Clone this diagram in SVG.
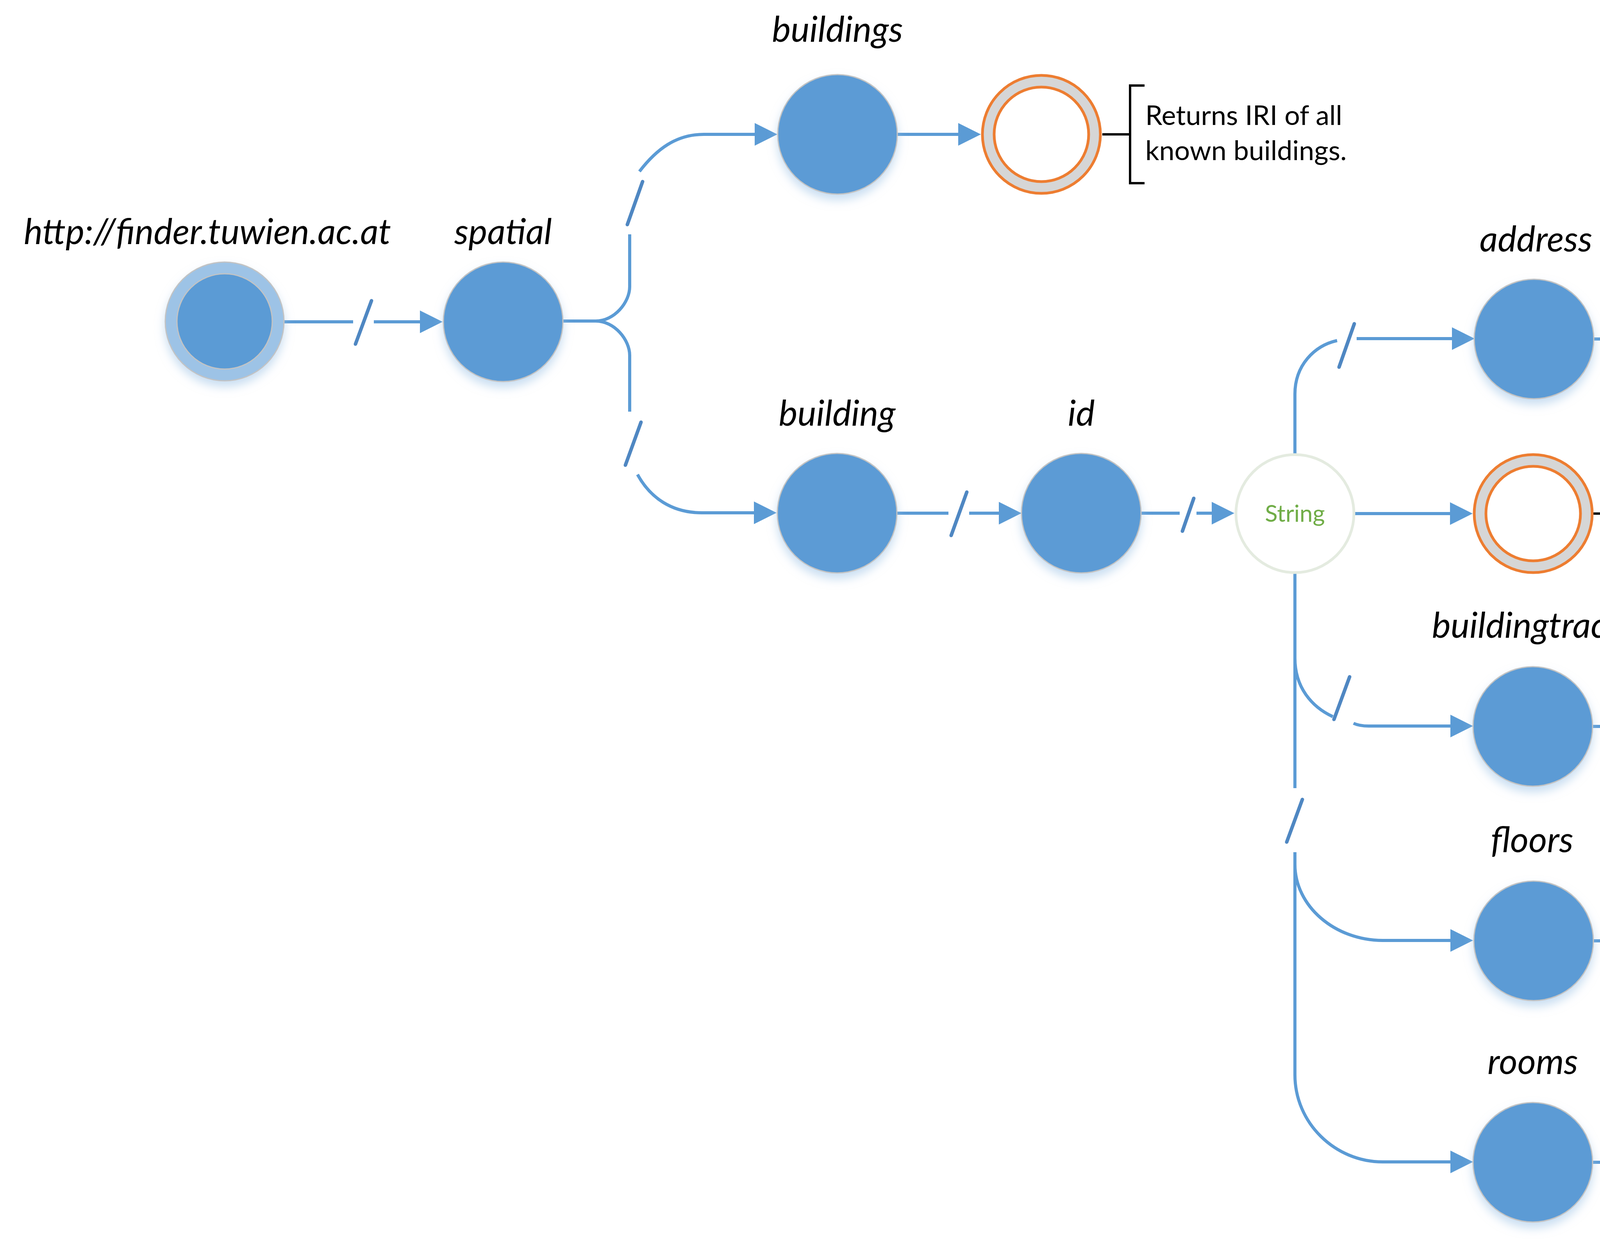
<svg xmlns="http://www.w3.org/2000/svg" width="5325" height="3175" viewBox="0 0 5325 3175">
<defs>
<filter id="sh" x="-30%" y="-30%" width="160%" height="170%">
<feDropShadow dx="0" dy="14" stdDeviation="12" flood-color="#9dc3e6" flood-opacity="0.55"/>
</filter>
<marker id="ah" markerUnits="userSpaceOnUse" markerWidth="58" markerHeight="60" refX="0" refY="29" orient="auto" overflow="visible">
<path d="M0,0 L58,29 L0,58 Z" fill="#5b9bd5"/>
</marker>
</defs>
<style>
.bg{fill:#ffffff}
.node{fill:#5b9bd5;stroke:#c3c3c3;stroke-width:3;filter:url(#sh)}
.rootout{fill:#9dc3e6;stroke:#c3c3c3;stroke-width:3;filter:url(#sh)}
.rootin{fill:#5b9bd5;stroke:#c3c3c3;stroke-width:3}
.str{fill:#ffffff;stroke:#e4ebe0;stroke-width:7}
.rout{fill:#d6d6d6;stroke:#ed7d31;stroke-width:7}
.rin{fill:#ffffff;stroke:#ed7d31;stroke-width:7}
.e{fill:none;stroke:#5b9bd5;stroke-width:8}
.sl{fill:none;stroke:#4f87c2;stroke-width:9;stroke-linecap:round}
.br{fill:none;stroke:#000000;stroke-width:6}
.lbl{font-family:Lato,"Open Sans","DejaVu Sans",sans-serif;font-style:italic;font-size:91px;fill:#000000;text-anchor:middle}
.note{font-family:Lato,"Open Sans","DejaVu Sans",sans-serif;font-size:62px;fill:#000000}
.note1{font-family:Lato,"Open Sans","DejaVu Sans",sans-serif;font-size:70px;fill:#000000}
.strt{font-family:Lato,"Open Sans","DejaVu Sans",sans-serif;font-size:60px;fill:#70ad47;text-anchor:middle}
</style>
<rect class="bg" x="0" y="0" width="5325" height="3175"/>

<g id="connectors">
<!-- root -> spatial -->
<path class="e" d="M728,824 L904,824"/>
<path class="e" d="M957,824 L1075,824" marker-end="url(#ah)"/>
<line class="sl" x1="951" y1="770" x2="910" y2="881"/>
<!-- spatial -> buildings -->
<path class="e" d="M1433,822 L1525,822 C1573,822 1612,774 1612,734 L1612,600"/>
<path class="e" d="M1637,439 C1680,383 1730,344 1802,344 L1932,344" marker-end="url(#ah)"/>
<line class="sl" x1="1645" y1="465" x2="1606" y2="575"/>
<!-- spatial -> building -->
<path class="e" d="M1525,822 C1573,822 1612,870 1612,910 L1612,1054"/>
<path class="e" d="M1632,1215 C1665,1275 1720,1313 1797,1313 L1930,1313" marker-end="url(#ah)"/>
<line class="sl" x1="1641" y1="1081" x2="1601" y2="1191"/>
<!-- buildings -> result -->
<path class="e" d="M2297,344 L2453,344" marker-end="url(#ah)"/>
<!-- building -> id -->
<path class="e" d="M2297,1314 L2428,1314"/>
<path class="e" d="M2481,1314 L2557,1314" marker-end="url(#ah)"/>
<line class="sl" x1="2475" y1="1260" x2="2435" y2="1371"/>
<!-- id -> String -->
<path class="e" d="M2922,1314 L3020,1314"/>
<path class="e" d="M3063,1314 L3102,1314" marker-end="url(#ah)"/>
<line class="sl" x1="3056" y1="1276" x2="3027" y2="1360"/>
<!-- String -> address -->
<path class="e" d="M3315,1161 L3315,1009 C3315,935 3365,885 3423,872"/>
<path class="e" d="M3473,867 L3717,867" marker-end="url(#ah)"/>
<line class="sl" x1="3467" y1="829" x2="3428" y2="940"/>
<!-- String -> points to -->
<path class="e" d="M3468,1315 L3712,1315" marker-end="url(#ah)"/>
<!-- trunk -->
<path class="e" d="M3315,1469 L3315,2018"/>
<line class="sl" x1="3334" y1="2047" x2="3294" y2="2156"/>
<!-- buildingtracts -->
<path class="e" d="M3315,1685 C3315,1760 3358,1810 3412,1835"/>
<path class="e" d="M3465,1852 Q3480,1859 3504,1859 L3713,1859" marker-end="url(#ah)"/>
<line class="sl" x1="3455" y1="1733" x2="3415" y2="1842"/>
<!-- floors -->
<path class="e" d="M3315,2182 L3315,2752"/>
<path class="e" d="M3315,2213 C3315,2320 3417,2408 3540,2408 L3713,2408" marker-end="url(#ah)"/>
<!-- rooms -->
<path class="e" d="M3315,2752 C3315,2875 3417,2975 3540,2975 L3713,2975" marker-end="url(#ah)"/>
<!-- node -> result -->
<path class="e" d="M4079,868 L4241,868" marker-end="url(#ah)"/>
<path class="e" d="M4076,1860 L4232,1860" marker-end="url(#ah)"/>
<path class="e" d="M4079,2409 L4238,2409" marker-end="url(#ah)"/>
<path class="e" d="M4076,2976 L4237,2976" marker-end="url(#ah)"/>
<!-- result -> bracket -->
<path class="br" d="M2822,344 L2893,344"/>
<path class="br" d="M4607,868 L4691,868"/>
<path class="br" d="M4079,1315 L4178,1315"/>
<path class="br" d="M4598,1861 L4689,1861"/>
<path class="br" d="M4604,2410 L4708,2410"/>
<path class="br" d="M4604,2980 L4708,2985"/>
</g>

<g id="root">
<circle class="rootout" cx="575" cy="823" r="152"/>
<circle class="rootin" cx="575" cy="823" r="122"/>
<text class="lbl" x="531" y="625">http://finder.tuwien.ac.at</text>
</g>
<g id="spatial">
<circle class="node" cx="1288" cy="824" r="153"/>
<text class="lbl" x="1288" y="625">spatial</text>
</g>
<g id="buildings">
<circle class="node" cx="2144" cy="344" r="153"/>
<text class="lbl" x="2144" y="107">buildings</text>
</g>
<g id="buildings-result">
<circle class="rout" cx="2666" cy="344" r="151"/>
<circle class="rin" cx="2666" cy="344" r="121"/>
<path class="br" d="M2930,219 L2893,219 L2893,469 L2930,469"/>
<text class="note1" x="2932" y="320">Returns IRI of all</text>
<text class="note1" x="2932" y="410">known buildings.</text>
</g>
<g id="building">
<circle class="node" cx="2143" cy="1314" r="153"/>
<text class="lbl" x="2143" y="1090">building</text>
</g>
<g id="id">
<circle class="node" cx="2768" cy="1314" r="153"/>
<text class="lbl" x="2768" y="1090">id</text>
</g>
<g id="string">
<circle class="str" cx="3315" cy="1315" r="151"/>
<text class="strt" x="3315" y="1336">String</text>
</g>
<g id="address">
<circle class="node" cx="3927" cy="868" r="153"/>
<text class="lbl" x="3932" y="644">address</text>
</g>
<g id="address-result">
<circle class="rout" cx="4453" cy="868" r="151"/>
<circle class="rin" cx="4453" cy="868" r="121"/>
<path class="br" d="M4729,708 L4691,708 L4691,1028 L4729,1028"/>
<text class="note" x="4728" y="808">Returns the</text>
<text class="note" x="4728" y="888">address of the ref.</text>
<text class="note" x="4728" y="968">building.</text>
</g>
<g id="pointsto-result">
<circle class="rout" cx="3925" cy="1315" r="151"/>
<circle class="rin" cx="3925" cy="1315" r="121"/>
<path class="br" d="M4215,1192 L4178,1192 L4178,1441 L4215,1441"/>
<text class="note" x="4215" y="1296">Points to</text>
<text class="note" x="4215" y="1376">a building.</text>
</g>
<g id="buildingtracts">
<circle class="node" cx="3924" cy="1860" r="153"/>
<text class="lbl" x="3924" y="1633">buildingtracts</text>
</g>
<g id="buildingtracts-result">
<circle class="rout" cx="4444" cy="1861" r="151"/>
<circle class="rin" cx="4444" cy="1861" r="121"/>
<path class="br" d="M4729,1702 L4689,1702 L4689,2021 L4729,2021"/>
<text class="note" x="4726" y="1802">Returns IRI of all</text>
<text class="note" x="4726" y="1882">known tracts of</text>
<text class="note" x="4726" y="1962">ref. building.</text>
</g>
<g id="floors">
<circle class="node" cx="3926" cy="2409" r="153"/>
<text class="lbl" x="3922" y="2182">floors</text>
</g>
<g id="floors-result">
<circle class="rout" cx="4450" cy="2410" r="151"/>
<circle class="rin" cx="4450" cy="2410" r="121"/>
<path class="br" d="M4746,2252 L4708,2252 L4708,2571 L4746,2571"/>
<text class="note" x="4743" y="2351">Returns IRI of all</text>
<text class="note" x="4743" y="2431">known floors of ref.</text>
<text class="note" x="4743" y="2512">building.</text>
</g>
<g id="rooms">
<circle class="node" cx="3924" cy="2976" r="153"/>
<text class="lbl" x="3924" y="2750">rooms</text>
</g>
<g id="rooms-result">
<circle class="rout" cx="4449" cy="2977" r="151"/>
<circle class="rin" cx="4449" cy="2977" r="121"/>
<path class="br" d="M4746,2835 L4708,2835 L4708,3156 L4746,3156"/>
<text class="note" x="4743" y="2934">Returns IRI of all</text>
<text class="note" x="4743" y="3014">known rooms of</text>
<text class="note" x="4743" y="3094">ref. building.</text>
</g>
</svg>
